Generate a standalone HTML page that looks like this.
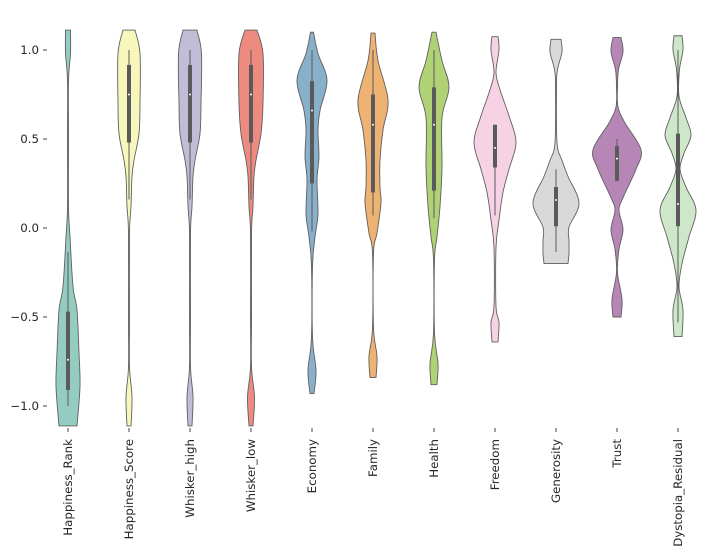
<!DOCTYPE html>
<html><head><meta charset="utf-8"><style>
body{margin:0;background:#fff;}
svg text{font-family:"DejaVu Sans","Liberation Sans",sans-serif;font-size:11.8px;fill:#262626;}
</style></head><body>
<svg id="chart" width="718" height="551" viewBox="0 0 718 551" xmlns="http://www.w3.org/2000/svg">
<g id="yaxis"></g>
<g id="violins"></g>
<g id="xaxis"></g>
</svg>
<script>
const categories = ["Happiness_Rank","Happiness_Score","Whisker_high","Whisker_low","Economy","Family","Health","Freedom","Generosity","Trust","Dystopia_Residual"];
const baseColors = ["#8dd3c7","#ffffb3","#bebada","#fb8072","#80b1d3","#fdb462","#b3de69","#fccde5","#d9d9d9","#bc80bd","#ccebc5"];
const yTicks = [1.0,0.5,0.0,-0.5,-1.0];
const yTickLabels = ["1.0","0.5","0.0","−0.5","−1.0"];
// density profiles: value levels (top→bottom) and relative densities
const rankVals = [1.112,0.98,0.83,0.5,0.12,-0.05,-0.33,-0.46,-0.70,-0.89,-1.112];
const rankDens = [2.5,2.5,0.5,0.5,0.5,2,5,9,11,12,9];
const scoreVals = [1.112,0.98,0.70,0.53,0.38,0.29,0.12,-0.03,-0.5,-0.78,-0.95,-1.112];
const scoreDens = [6,11,11,10,5,3,2,0.5,0.5,0.5,3,2];
const highVals = [1.112,0.98,0.70,0.53,0.38,0.29,0.12,-0.03,-0.5,-0.78,-0.95,-1.112];
const highDens = [7,11.5,11,10,5,3,2,0.5,0.5,0.5,3,2];
const lowVals = [1.112,0.98,0.70,0.53,0.38,0.29,0.12,-0.03,-0.5,-0.78,-0.95,-1.112];
const lowDens = [6,12,12,10,5,3,2,0.5,0.5,0.5,3.5,2];
const econVals = [1.10,0.98,0.83,0.66,0.55,0.40,0.27,0.08,-0.05,-0.22,-0.61,-0.80,-0.93];
const econDens = [1.5,6,15,8,6,7,5,6,3,0.5,0.5,4,2];
const famVals = [1.095,0.94,0.72,0.55,0.38,0.23,0.14,-0.03,-0.14,-0.56,-0.72,-0.84];
const famDens = [2,5,15,10,7,7,8,4,0.5,0.5,4,3];
const healthVals = [1.10,0.94,0.79,0.62,0.34,0.12,-0.05,-0.18,-0.59,-0.76,-0.88];
const healthDens = [2,8,15,8,8,6,3,0.5,0.5,4,3];
const freeVals = [1.075,1.0,0.87,0.76,0.63,0.48,0.33,0.20,0.045,-0.11,-0.44,-0.53,-0.64];
const freeDens = [3,4,1,6,14,21,14,8,4,1,1,4,3];
const genVals = [1.06,0.99,0.89,0.79,0.48,0.38,0.29,0.14,0.005,-0.07,-0.14,-0.20];
const genDens = [5,6,1.5,0.5,1,6,12,23,13,13,13,12];
const trustVals = [1.07,0.99,0.89,0.79,0.68,0.59,0.44,0.33,0.17,0.10,-0.01,-0.12,-0.25,-0.40,-0.50];
const trustDens = [4,6,1.5,0.5,1,8,24,19,6,2,6,2,0.5,5,4];
const dystVals = [1.08,1.0,0.89,0.74,0.62,0.52,0.42,0.33,0.23,0.10,-0.05,-0.20,-0.33,-0.46,-0.61];
const dystDens = [4,5,1.5,1,8,13,6,2,8,18,11,4,1,5,4];
const profileVals = [rankVals,scoreVals,highVals,lowVals,econVals,famVals,healthVals,freeVals,genVals,trustVals,dystVals];
const profileDens = [rankDens,scoreDens,highDens,lowDens,econDens,famDens,healthDens,freeDens,genDens,trustDens,dystDens];
// box stats
const q1 = [-0.91,0.48,0.48,0.48,0.25,0.20,0.21,0.34,0.01,0.265,0.01];
const q3 = [-0.47,0.916,0.916,0.916,0.825,0.75,0.79,0.58,0.23,0.46,0.53];
const medians = [-0.74,0.75,0.75,0.75,0.66,0.58,0.58,0.45,0.157,0.39,0.135];
const whiskLo = [-1.0,0.16,0.16,0.16,-0.02,0.07,0.055,0.07,-0.135,0.265,-0.53];
const whiskHi = [-0.135,1.0,1.0,1.0,1.0,1.0,1.0,0.58,0.33,0.5,1.0];

const NS="http://www.w3.org/2000/svg";
const yScale = v => 228 - v*178;
const xScale = i => 68 + i*61;
function mk(tag,attrs,parent){const e=document.createElementNS(NS,tag);for(const k in attrs)e.setAttribute(k,attrs[k]);parent.appendChild(e);return e;}
function desat(hex,p){let r=parseInt(hex.slice(1,3),16)/255,g=parseInt(hex.slice(3,5),16)/255,b=parseInt(hex.slice(5,7),16)/255;
 const mx=Math.max(r,g,b),mn=Math.min(r,g,b);let h=0,s=0,l=(mx+mn)/2;
 if(mx!==mn){const d=mx-mn;s=l>0.5?d/(2-mx-mn):d/(mx+mn);
  h=mx===r?((g-b)/d+(g<b?6:0)):mx===g?((b-r)/d+2):((r-g)/d+4);h/=6;}
 s*=p;const f=(n)=>{const k=(n+h*12)%12,a=s*Math.min(l,1-l);return Math.round(255*(l-a*Math.max(-1,Math.min(k-3,9-k,1))));};
 return "rgb("+f(0)+","+f(8)+","+f(4)+")";}
function smoothSide(pts){let d="";for(let i=0;i<pts.length-1;i++){const p0=pts[Math.max(0,i-1)],p1=pts[i],p2=pts[i+1],p3=pts[Math.min(pts.length-1,i+2)];
 const c1=[p1[0]+(p2[0]-p0[0])/6,p1[1]+(p2[1]-p0[1])/6],c2=[p2[0]-(p3[0]-p1[0])/6,p2[1]-(p3[1]-p1[1])/6];
 d+=" C"+c1[0].toFixed(2)+","+c1[1].toFixed(2)+" "+c2[0].toFixed(2)+","+c2[1].toFixed(2)+" "+p2[0].toFixed(2)+","+p2[1].toFixed(2);}return d;}

const ya=document.getElementById('yaxis');
yTicks.forEach((t,i)=>{
 const tk=mk('line',{x1:43,x2:47,y1:yScale(t),y2:yScale(t),stroke:'#444','stroke-width':1},ya);
 
 
 const tx=mk('text',{x:39,y:yScale(t)+4,'text-anchor':'end'},ya);tx.textContent=yTickLabels[i];
 
 
});
const vg=document.getElementById('violins'),xa=document.getElementById('xaxis');
categories.forEach((c,i)=>{
 const cx=xScale(i),vals=profileVals[i],dens=profileDens[i];
 const right=vals.map((v,j)=>[cx+dens[j],yScale(v)]);
 const left=vals.map((v,j)=>[cx-dens[j],yScale(v)]).reverse();
 let d="M"+right[0][0]+","+right[0][1]+smoothSide(right)+" L"+left[0][0]+","+left[0][1]+smoothSide(left)+" Z";
 const g=mk('g',{},vg);
 
 
 const p=mk('path',{d:d,fill:desat(baseColors[i],0.8),stroke:'#5f5f5f','stroke-width':0.9},g);
 
 
 const w=mk('line',{x1:cx,x2:cx,y1:yScale(whiskHi[i]),y2:yScale(whiskLo[i]),stroke:'#5a5a5a','stroke-width':1},g);
 
 
 const b=mk('rect',{x:cx-2,width:4,y:yScale(q3[i]),height:yScale(q1[i])-yScale(q3[i]),fill:'#5a5a5a'},g);
 
 
 const m=mk('circle',{cx:cx,cy:yScale(medians[i]),r:1,fill:'#fff'},g);
 
 
 const tk=mk('line',{x1:cx,x2:cx,y1:428,y2:432,stroke:'#444','stroke-width':1},xa);
 
 
 const tx=mk('text',{x:0,y:0,'text-anchor':'end',transform:'translate('+(cx+4)+',439) rotate(-90)'},xa);
 tx.textContent=c;
 
 
});
</script>
</body></html>
